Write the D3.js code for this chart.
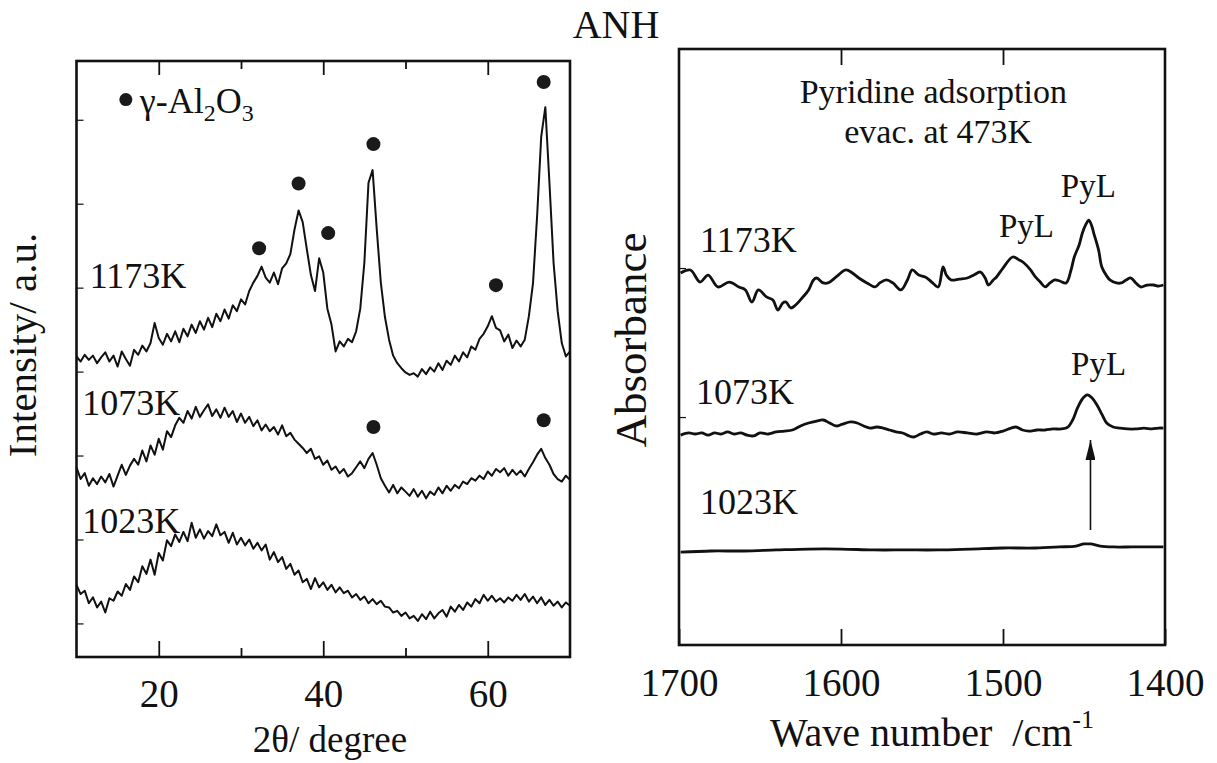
<!DOCTYPE html>
<html>
<head>
<meta charset="utf-8">
<script src="https://cdn.jsdelivr.net/npm/d3@7"></script>
<style>
  html, body { margin: 0; padding: 0; background: #fff; }
</style>
</head>
<body>
<svg id="chart" width="1217" height="763"></svg>
<script>
// ---------- XRD patterns (2θ from 10° to 70°, every 0.5°) ----------
const twoThetaStart = 10, twoThetaStep = 0.5;

const xrd1173 = [
  31.8,31.2,32.0,31.4,31.9,31.0,31.7,32.3,31.2,31.9,30.6,32.4,31.5,30.7,32.6,32.0,33.1,32.4,33.4,35.8,
  34.0,33.2,34.5,33.6,34.8,33.5,35.1,34.2,35.6,34.6,36.0,35.0,36.4,35.3,36.9,36.0,37.4,36.3,37.9,37.2,
  38.6,38.0,39.6,40.6,41.4,42.5,41.2,40.6,41.8,40.4,42.3,42.9,44.0,46.9,49.2,47.8,44.6,41.5,39.6,43.5,
  41.8,37.5,35.6,32.4,33.6,33.0,33.9,33.5,34.8,37.5,43.0,52.5,54.0,47.0,40.6,36.5,33.8,31.9,31.0,30.4,
  29.9,29.6,29.8,29.4,30.3,29.7,30.5,30.0,31.0,30.2,31.3,30.8,31.9,31.2,32.3,31.7,33.0,32.6,33.9,34.5,
  35.4,36.6,35.2,34.9,33.6,34.4,32.8,33.7,33.0,33.8,36.6,40.5,48.5,58.0,61.5,52.5,43.0,37.2,33.4,31.8,
  32.4
];
const xrd1073 = [
  18.6,17.2,17.9,16.4,17.3,16.6,17.5,16.8,17.8,16.3,17.6,18.9,17.7,18.8,19.6,18.9,20.6,19.3,21.2,20.1,
  22.0,20.7,22.9,22.2,23.6,24.5,23.9,25.3,24.4,25.8,24.6,25.4,26.1,24.7,25.5,24.5,25.7,24.6,25.3,24.0,
  25.0,23.9,24.6,23.5,24.2,23.0,23.7,22.9,23.4,22.5,23.6,22.3,22.7,21.9,21.4,20.9,20.3,20.8,19.6,19.9,
  18.9,19.4,18.3,18.7,17.9,18.4,17.5,17.9,18.6,19.3,18.5,19.6,20.3,18.9,17.3,16.4,15.6,16.5,15.5,16.2,
  15.7,15.2,16.0,15.1,15.8,14.9,15.7,15.3,16.2,15.5,16.4,15.8,16.5,16.1,16.9,16.6,17.3,17.0,17.6,17.2,
  18.1,17.6,18.4,18.0,18.5,17.6,18.3,17.7,18.2,17.5,18.4,19.2,20.1,20.8,19.7,18.9,17.8,17.2,16.9,17.6,
  17.1
];
const xrd1023 = [
  4.6,3.5,3.9,2.4,3.1,1.9,2.6,1.3,3.0,2.7,3.8,3.3,4.7,4.0,5.6,4.9,6.8,5.9,7.6,5.8,
  8.4,7.5,9.9,9.2,10.6,9.7,10.9,9.8,12.0,10.2,11.2,10.1,11.0,10.4,11.8,10.5,10.9,9.6,10.8,9.4,
  10.2,9.3,10.0,8.9,9.6,8.7,9.4,7.6,8.5,7.3,7.9,6.5,7.1,5.8,6.3,4.9,5.3,4.1,5.4,4.3,
  4.9,4.0,4.6,3.7,4.3,3.6,3.9,3.1,3.5,2.8,3.2,2.4,2.9,2.3,2.7,2.0,1.9,1.3,1.5,0.9,
  1.3,0.6,0.9,0.3,1.1,0.5,1.4,0.6,1.2,1.6,0.8,2.0,1.4,2.2,1.6,2.5,2.0,2.9,2.4,3.4,
  2.7,3.3,2.6,3.0,2.5,3.1,2.7,3.4,2.8,3.5,2.6,3.2,2.4,3.1,2.2,2.8,2.1,2.6,1.9,2.5,
  2.1
];
const xrdNames = ["1173K", "1073K", "1023K"];
const xrdNameAngle = [11.6, 10.7, 10.7];
const xrdNameLevel = [39.9, 24.8, 10.8];

// γ-Al2O3 reflections marked above the patterns
const gammaAngle1173 = [32.2, 37.0, 40.6, 46.1, 61.0, 66.8];
const gammaLevel1173 = [44.7, 52.4, 46.5, 57.1, 40.3, 64.5];
const gammaAngle1073 = [46.1, 66.8];
const gammaLevel1073 = [23.4, 24.2];

const xrdMajorTicks = [20, 40, 60];
const xrdMinorTicks = [30, 50];
const xrdLevelTicks = [0, 10, 20, 30, 40, 50, 60];

// ---------- IR spectra of adsorbed pyridine ----------
const ir1173Wn = [1699,1693,1687,1682,1676,1669,1663,1659,1655,1651,1646,1642,1639,1636,1634,1631,1628,1624,1620,1617,
  1615,1611,1608,1603,1597,1593,1589,1584,1579,1576,1572,1568,1563,1559,1556,1552,1548,1544,1540,1537,
  1535,1532,1527,1522,1518,1514,1511,1509,1506,1504,1500,1494,1490,1487,1483,1480,1477,1474,1471,1468,
  1465,1461,1458,1456,1453,1451,1449,1447,1445,1444,1441,1439,1436,1434,1430,1427,1424,1421,1418,1415,
  1411,1407,1404,1401];
const ir1173Abs = [249.7,251.7,243.6,248.3,240.3,243.6,240.3,238.3,230.2,238.3,233.6,231.5,224.8,229.5,230.2,226.2,228.2,232.9,238.3,245.0,
  246.3,243.0,243.0,247.0,251.7,249.7,246.3,243.0,240.3,243.0,245.0,243.0,238.3,245.0,251.7,248.3,247.0,243.6,240.3,253.7,
  248.3,245.0,245.6,246.3,248.3,250.3,246.3,241.6,245.0,247.0,253.0,260.4,258.4,256.4,251.7,247.0,243.6,240.3,243.0,245.0,
  244.3,243.0,251.7,260.4,268.5,276.5,281.9,285.2,280.5,276.5,265.1,253.7,247.7,245.0,243.0,243.0,245.0,246.3,243.0,240.3,
  241.6,241.6,240.9,241.6];

const ir1073Wn = [1699,1694,1690,1686,1682,1678,1674,1670,1666,1662,1658,1654,1650,1645,1640,1635,1630,1625,1620,1615,
  1611,1607,1603,1599,1594,1590,1586,1582,1578,1574,1570,1566,1562,1558,1555,1551,1547,1543,1538,1533,
  1528,1522,1516,1510,1505,1500,1495,1492,1488,1484,1479,1474,1469,1464,1460,1457,1454,1451,1448,1445,
  1442,1439,1436,1432,1428,1423,1418,1413,1408,1404,1401];
const ir1073Abs = [140.9,142.3,141.6,142.3,140.9,142.3,141.6,143.0,141.6,142.3,140.9,140.3,142.3,141.6,143.0,143.6,144.3,147.0,149.0,150.3,
  151.0,149.0,147.0,148.3,149.7,149.0,147.0,145.6,146.3,145.6,144.3,143.0,142.3,140.3,139.6,141.6,143.0,141.6,142.3,141.6,
  143.0,142.3,141.6,143.0,142.3,143.6,145.6,146.3,144.3,143.6,144.3,144.3,145.0,145.0,146.3,151.0,159.1,165.1,167.8,165.8,
  161.1,155.0,149.0,146.3,145.6,145.0,145.0,145.6,145.0,145.6,145.6];

const ir1023Wn = [1699,1680,1660,1640,1620,1600,1580,1560,1540,1520,1500,1480,1465,1455,1450,1446,1440,1432,1420,1401];
const ir1023Abs = [62.4,63.1,63.1,63.8,64.4,64.4,63.8,63.8,63.8,64.4,65.1,65.1,65.8,66.4,67.8,67.8,66.4,65.8,65.8,65.8];

const irNames = ["1173K", "1073K", "1023K"];
const irNameWn = [1687, 1689.5, 1687];
const irNameLevel = [264.0, 161.7, 88.0];

const pylWn = [1485.5, 1447.3, 1441];
const pylLevel = [274.0, 300.7, 181.2];

const arrowWn = 1446;
const arrowFrom = 77.2, arrowTo = 137.6;

const irTicks = [1700, 1600, 1500, 1400];
const irInnerTicks = [1600, 1500];
const irLevelTicks = [153, 253];

// ---------- drawing ----------
const face = '"Liberation Serif", "Times New Roman", "Liberation Sans", Arial, sans-serif';
const svg = d3.select("#chart").attr("font-family", face);
const ink = "#111";

const xrdX = d3.scaleLinear().domain([10, 70]).range([76.5, 570]);
const xrdY = d3.scaleLinear().domain([-4, 67]).range([657, 61]);
const irX = d3.scaleLinear().domain([1700, 1400]).range([679, 1165]);
const irY = d3.scaleLinear().domain([0, 400]).range([645, 49]);

function styleAxis(g, fontSize) {
  g.attr("font-family", face).attr("font-size", fontSize);
  g.select(".domain").remove();
  g.selectAll(".tick line").attr("stroke", ink).attr("stroke-width", 1.8);
  g.selectAll(".tick text").attr("fill", ink);
}

function frame(x, y) {
  const [x0, x1] = x.range(), [y0, y1] = y.range();
  svg.append("rect")
    .attr("x", Math.min(x0, x1)).attr("y", Math.min(y0, y1))
    .attr("width", Math.abs(x1 - x0)).attr("height", Math.abs(y1 - y0))
    .attr("fill", "none").attr("stroke", ink).attr("stroke-width", 2.6);
}

// Left panel: XRD
const xrdBottom = xrdY.range()[0], xrdTop = xrdY.range()[1];
svg.append("g").attr("transform", `translate(0,${xrdBottom})`)
  .call(d3.axisBottom(xrdX).tickValues(xrdMajorTicks).tickSizeInner(-16).tickSizeOuter(0).tickPadding(22).tickFormat(d3.format("d")))
  .call(g => styleAxis(g, 39));
svg.append("g").attr("transform", `translate(0,${xrdBottom})`)
  .call(d3.axisBottom(xrdX).tickValues(xrdMinorTicks).tickSizeInner(-9).tickSizeOuter(0).tickFormat(""))
  .call(g => styleAxis(g, 39));
svg.append("g").attr("transform", `translate(0,${xrdTop})`)
  .call(d3.axisTop(xrdX).tickValues(xrdMajorTicks).tickSizeInner(-14).tickSizeOuter(0).tickFormat(""))
  .call(g => styleAxis(g, 39));
svg.append("g").attr("transform", `translate(0,${xrdTop})`)
  .call(d3.axisTop(xrdX).tickValues(xrdMinorTicks).tickSizeInner(-8).tickSizeOuter(0).tickFormat(""))
  .call(g => styleAxis(g, 39));
svg.append("g").attr("transform", `translate(${xrdX.range()[0]},0)`)
  .call(d3.axisLeft(xrdY).tickValues(xrdLevelTicks).tickSizeInner(-7).tickSizeOuter(0).tickFormat(""))
  .call(g => { styleAxis(g, 39); g.selectAll(".tick line").attr("stroke-width", 1.2); });
frame(xrdX, xrdY);

const xrdLine = d3.line()
  .x((d, i) => xrdX(twoThetaStart + i * twoThetaStep))
  .y(d => xrdY(d));
[xrd1173, xrd1073, xrd1023].forEach(series => {
  svg.append("path").datum(series)
    .attr("d", xrdLine)
    .attr("fill", "none").attr("stroke", ink)
    .attr("stroke-width", 2).attr("stroke-linejoin", "round");
});

svg.append("g").selectAll("text").data(xrdNames).join("text")
  .attr("x", (d, i) => xrdX(xrdNameAngle[i]))
  .attr("y", (d, i) => xrdY(xrdNameLevel[i]))
  .attr("font-size", 36).attr("fill", ink)
  .text(d => d);

const gammaMarks = gammaAngle1173.map((a, i) => [a, gammaLevel1173[i]])
  .concat(gammaAngle1073.map((a, i) => [a, gammaLevel1073[i]]));
svg.append("g").selectAll("circle").data(gammaMarks).join("circle")
  .attr("cx", d => xrdX(d[0])).attr("cy", d => xrdY(d[1]))
  .attr("r", 7).attr("fill", "#1a1a1a");

// legend
svg.append("circle").attr("cx", xrdX(16.0)).attr("cy", xrdY(62.4)).attr("r", 6.5).attr("fill", "#1a1a1a");
const legend = svg.append("text").attr("x", xrdX(17.7)).attr("y", xrdY(60.8)).attr("font-size", 36).attr("fill", ink);
legend.append("tspan").text("γ-Al");
legend.append("tspan").attr("font-size", 24).attr("dy", 8).text("2");
legend.append("tspan").attr("dy", -8).text("O");
legend.append("tspan").attr("font-size", 24).attr("dy", 8).text("3");

// axis titles, left
svg.append("text").attr("x", 330).attr("y", 752).attr("text-anchor", "middle")
  .attr("font-size", 37).attr("fill", ink).text("2θ/ degree");
svg.append("text").attr("transform", "translate(36,345) rotate(-90)").attr("text-anchor", "middle")
  .attr("font-size", 41).attr("fill", ink).text("Intensity/ a.u.");

// Right panel: IR
const irBottom = irY.range()[0], irTop = irY.range()[1];
svg.append("g").attr("transform", `translate(0,${irBottom})`)
  .call(d3.axisBottom(irX).tickValues(irTicks).tickSizeInner(-16).tickSizeOuter(0).tickPadding(23).tickFormat(d3.format("d")))
  .call(g => styleAxis(g, 39));
svg.append("g").attr("transform", `translate(0,${irTop})`)
  .call(d3.axisTop(irX).tickValues(irInnerTicks).tickSizeInner(-16).tickSizeOuter(0).tickFormat(""))
  .call(g => styleAxis(g, 39));
svg.append("g").attr("transform", `translate(${irX.range()[0]},0)`)
  .call(d3.axisLeft(irY).tickValues(irLevelTicks).tickSizeInner(-7).tickSizeOuter(0).tickFormat(""))
  .call(g => { styleAxis(g, 39); g.selectAll(".tick line").attr("stroke-width", 1.2); });
frame(irX, irY);

const irLine = d3.line().curve(d3.curveCatmullRom.alpha(0.5));
[[ir1173Wn, ir1173Abs], [ir1073Wn, ir1073Abs], [ir1023Wn, ir1023Abs]].forEach(([wn, ab]) => {
  svg.append("path")
    .attr("d", irLine(wn.map((w, i) => [irX(w), irY(ab[i])])))
    .attr("fill", "none").attr("stroke", ink)
    .attr("stroke-width", 2.8).attr("stroke-linejoin", "round");
});

svg.append("g").selectAll("text").data(irNames).join("text")
  .attr("x", (d, i) => irX(irNameWn[i]))
  .attr("y", (d, i) => irY(irNameLevel[i]))
  .attr("font-size", 36).attr("fill", ink)
  .text(d => d);

svg.append("g").selectAll("text").data(pylWn).join("text")
  .attr("x", d => irX(d))
  .attr("y", (d, i) => irY(pylLevel[i]))
  .attr("text-anchor", "middle")
  .attr("font-size", 33).attr("fill", ink)
  .text("PyL");

svg.append("text").attr("x", irX(1543)).attr("y", irY(363.8)).attr("text-anchor", "middle")
  .attr("font-size", 34).attr("fill", ink).text("Pyridine adsorption");
svg.append("text").attr("x", irX(1540)).attr("y", irY(336.9)).attr("text-anchor", "middle")
  .attr("font-size", 34).attr("fill", ink).text("evac. at 473K");

// arrow pointing at the 1448 cm-1 band
svg.append("defs").append("marker")
  .attr("id", "head").attr("viewBox", "0 0 20 10").attr("refX", 20).attr("refY", 5)
  .attr("markerUnits", "userSpaceOnUse").attr("markerWidth", 20).attr("markerHeight", 10)
  .attr("orient", "auto")
  .append("path").attr("d", "M0,0 L20,5 L0,10 Z").attr("fill", ink);
svg.append("line")
  .attr("x1", irX(arrowWn)).attr("x2", irX(arrowWn))
  .attr("y1", irY(arrowFrom)).attr("y2", irY(arrowTo))
  .attr("stroke", ink).attr("stroke-width", 1.6)
  .attr("marker-end", "url(#head)");

// axis titles, right
const wnTitle = svg.append("text").attr("x", 932).attr("y", 746).attr("text-anchor", "middle")
  .attr("font-size", 40).attr("fill", ink);
wnTitle.append("tspan").text("Wave number\u00a0\u00a0/cm");
wnTitle.append("tspan").attr("font-size", 26).attr("dy", -18).text("-1");
svg.append("text").attr("transform", "translate(646,340) rotate(-90)").attr("text-anchor", "middle")
  .attr("font-size", 45).attr("fill", ink).text("Absorbance");

// figure title
svg.append("text").attr("x", 616).attr("y", 38).attr("text-anchor", "middle")
  .attr("font-size", 40).attr("fill", ink).text("ANH");
</script>
</body>
</html>
